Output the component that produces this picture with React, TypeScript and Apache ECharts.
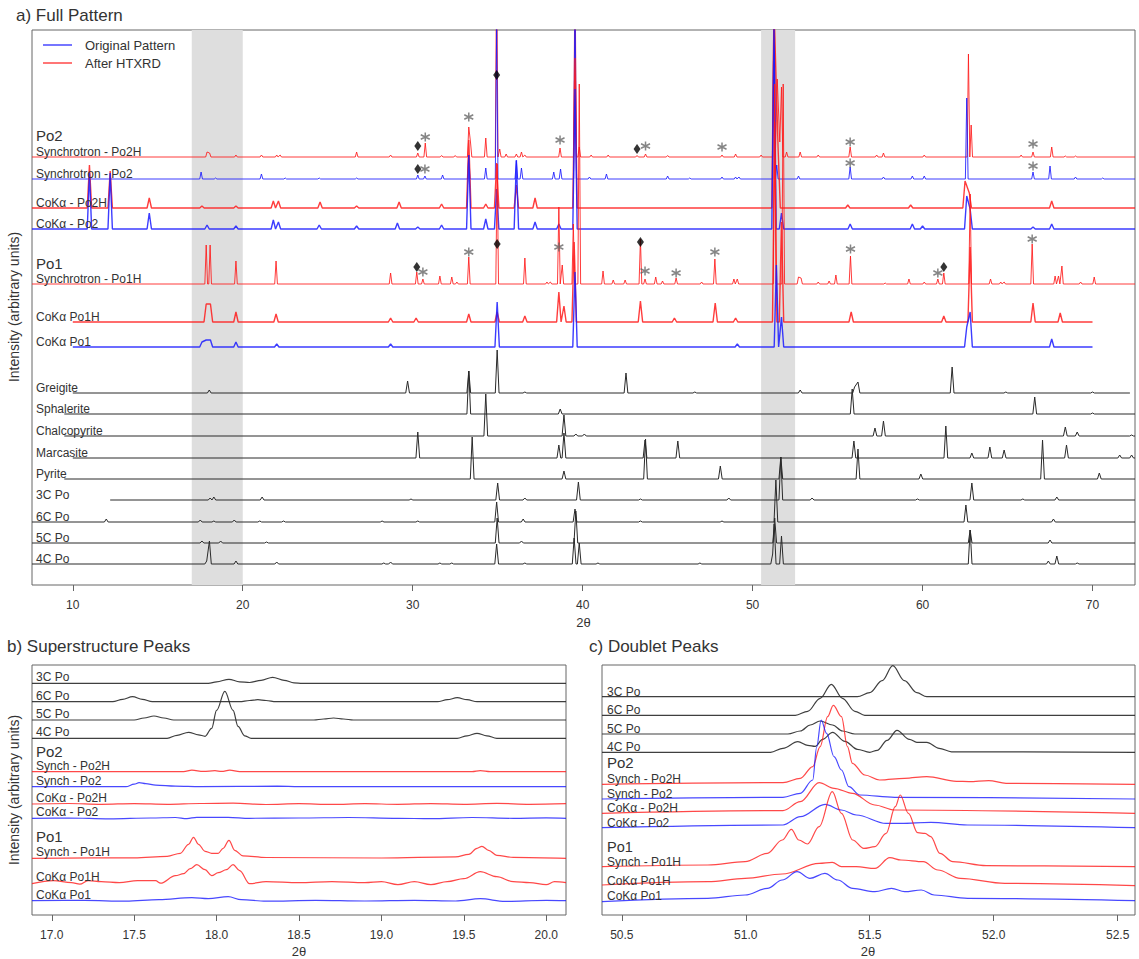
import React, { useEffect, useRef } from "react";
import * as echarts from "echarts";

// ---------- DATA ----------
const TOP_TICKS = [10, 20, 30, 40, 50, 60, 70];
const B_TICKS = [17.0, 17.5, 18.0, 18.5, 19.0, 19.5, 20.0];
const C_TICKS = [50.5, 51.0, 51.5, 52.0, 52.5];
const BANDS = [[17, 20], [50.5, 52.5]];

// Top panel peak lists: [2theta, intensity]
const SYNCH_PO2H = [[17.9,5],[18.05,4],[19.6,2],[21.1,2],[22.0,2],[22.2,2],[26.7,5],[28.7,2],[30.3,4],[30.74,14],[31.7,1.5],[32.5,1.5],[33.3,30],[33.4,15],[34.3,19],[34.94,200],[35.12,8],[35.5,3],[36.1,3],[36.4,5],[36.6,2],[38.67,9],[39.55,200],[39.8,10],[40.5,2],[41.5,2],[43.2,1.5],[43.7,3],[45.0,1.5],[48.2,2],[49.0,3],[50.5,2],[51.26,200],[51.45,78],[51.6,15],[51.7,70],[52.0,5],[52.8,5],[53.86,2],[55.74,10],[57.3,2],[57.7,4],[60.1,2],[62.7,103],[62.86,32],[65.8,2],[66.5,5],[67.6,10],[68.4,1],[69.0,1]];
const SYNCH_PO2 = [[17.55,7],[18.4,1],[21.1,5],[22.5,1],[24.5,1],[26.7,1],[30.3,4],[30.72,3],[31.76,4],[33.3,24],[34.3,11],[34.94,150],[36.1,18],[36.4,11],[38.3,7],[38.7,10],[39.55,200],[40.4,2],[41.4,5],[45.0,3],[46.3,1],[48.2,2],[49.0,2],[49.2,2],[51.26,200],[51.42,14],[52.7,3],[55.74,12],[57.7,2],[59.4,3],[60.1,3],[62.6,81],[66.5,7],[67.5,13],[69.0,2],[70.6,1]];
const COKA_PO2H = [[10.98,43],[12.2,37],[14.5,10],[17.6,2],[19.6,2],[21.8,7],[22.1,7],[24.55,6],[26.7,2],[29.2,6],[31.7,4],[33.3,68],[34.3,4],[34.94,45],[36.1,23],[37.2,10],[39.55,150],[51.26,200],[51.5,60],[55.6,3],[59.3,3],[62.5,27],[62.75,15],[67.6,7]];
const COKA_PO2 = [[10.98,56],[12.2,56],[14.5,16],[17.9,4],[19.6,3],[21.8,9],[22.1,7],[24.5,4],[26.7,3],[29.1,6],[30.3,2],[31.7,4],[33.3,74],[34.3,10],[34.94,40],[36.1,69],[37.2,7],[38.6,5],[39.55,140],[51.26,200],[51.7,16],[55.74,5],[59.4,5],[60.0,3],[62.6,33],[62.8,20],[66.5,2],[67.6,5]];
const SYNCH_PO1H = [[17.85,39],[18.08,39],[19.6,23],[21.96,23],[28.7,11],[30.24,12],[30.6,5],[31.6,8],[32.3,7],[32.6,2],[33.3,27],[34.97,120],[36.6,26],[37.9,2],[38.1,2],[38.6,77],[38.8,19],[39.45,60],[39.8,200],[41.2,13],[41.8,4],[42.5,4],[43.4,45],[43.67,5],[44.3,7],[44.7,3],[45.5,6],[47.0,2],[47.78,25],[48.9,5],[49.1,5],[51.3,200],[51.8,200],[52.7,7],[52.85,6],[53.86,2],[54.5,3],[54.9,9],[55.76,28],[57.8,1],[59.2,5],[60.1,2],[60.9,5],[61.25,11],[62.8,90],[64.0,5],[64.6,2],[64.8,2],[66.45,40],[67.8,8],[68.0,8],[68.2,18],[69.3,2],[70.1,7]];
const COKA_PO1H = [[17.85,18],[18.1,18],[19.6,10],[21.96,8],[28.7,4],[30.2,4],[33.3,8],[34.97,10],[36.6,6],[38.6,30],[38.9,16],[39.5,80],[43.4,21],[45.4,4],[47.8,19],[49.0,4],[51.3,200],[51.7,100],[55.8,10],[61.25,6],[62.8,75],[66.5,19],[68.1,9]];
const COKA_PO1 = [[17.6,5],[17.85,7],[18.1,7],[19.6,5],[22.0,3],[28.7,3],[34.97,45],[39.55,75],[49.1,3],[51.4,82],[51.7,30],[62.6,20],[62.8,35],[67.6,8]];
const GREIGITE = [[18.03,3],[29.7,12],[33.3,22],[34.97,43],[36.6,1],[42.55,20],[46.6,1],[52.8,3],[56.0,6],[56.2,11],[61.74,26],[64.9,1],[70.0,1]];
const SPHALERITE = [[33.3,43],[38.68,5],[55.86,25],[66.6,17],[70.0,1]];
const CHALCOPYRITE = [[34.3,42],[38.9,21],[39.6,2],[40.1,2],[57.2,8],[57.7,15],[68.4,9],[69.1,4],[72.3,1]];
const MARCASITE = [[30.3,26],[38.6,13],[38.9,25],[43.67,18],[45.6,17],[55.96,17],[61.37,32],[62.9,5],[63.96,11],[64.8,8],[68.47,13],[71.6,3],[72.3,3]];
const PYRITE = [[33.5,42],[38.9,8],[43.7,40],[48.1,13],[51.66,22],[56.2,30],[59.9,5],[67.06,39],[70.4,6]];
const PO_3C = [[18.08,2],[18.3,3],[21.14,3],[29.9,1],[35.0,17],[36.6,2],[39.75,18],[43.4,1],[48.6,2],[51.66,43],[53.5,2],[59.7,1],[62.9,17],[65.9,1],[67.9,3]];
const PO_6C = [[11.97,3],[17.5,2],[18.3,1],[19.5,2],[21.0,1],[22.4,1],[28.2,1],[30.3,1],[34.94,20],[36.5,3],[39.55,13],[43.4,1],[48.2,1],[51.37,42],[62.55,17],[67.7,3]];
const PO_5C = [[17.6,2],[18.7,2],[21.4,1],[34.97,25],[36.4,2],[39.6,32],[51.3,25],[62.8,13],[67.5,3]];
const PO_4C = [[17.88,3],[18.04,23],[19.6,3],[22.0,2],[28.3,1],[28.7,2],[31.6,1],[32.3,1],[34.94,20],[36.6,1],[39.5,26],[39.8,21],[40.9,1],[46.9,1],[51.18,10],[51.27,40],[51.7,28],[62.8,34],[67.4,3],[67.9,8],[69.1,1]];

// Top panel: x-range of each pattern [start, end]
const RANGE_FULL = [7.6, 72.5];
const RANGE_COKA_PO1 = [10, 70];
const RANGE_GREIGITE = [10, 72.2];
const RANGE_95 = [9.5, 72.5];
const RANGE_10 = [10, 72.5];
const RANGE_3C = [12.2, 72.5];

// Stacking offsets for the top panel (arbitrary intensity units)
const TOP_OFFSETS = [428, 406, 377, 356, 301, 263, 238, 192, 171, 149, 127, 106, 85, 63, 42, 21];

// Annotations on the top panel: [2theta, level]
const ASTERISKS = [[30.74,448],[33.3,468],[38.67,445],[43.7,439],[48.2,438],[55.74,443],[66.5,441],[30.72,416],[55.74,422],[66.5,419],[30.6,313],[33.3,333],[38.6,338],[43.67,314],[45.5,312],[47.78,333],[55.76,336],[60.9,312],[66.45,346]];
const DIAMONDS = [[30.3,439],[34.94,510],[43.2,436],[30.3,416],[30.24,318],[34.97,341],[43.4,343],[61.25,318]];

// Panel b (superstructure peaks): [2theta, intensity above baseline]
const B_3C = [[16.88,0],[17.95,0],[18.0,1.5],[18.075,4],[18.14,1.5],[18.2,0.8],[18.27,3],[18.34,6],[18.41,3],[18.47,0.5],[18.52,0],[20.12,0]];
const B_6C = [[16.88,0],[17.37,0],[17.43,2.3],[17.49,5],[17.55,2.3],[17.61,0],[18.14,0],[18.2,1.2],[18.25,2],[18.3,1.2],[18.36,0],[19.34,0],[19.4,2],[19.46,4],[19.52,2],[19.58,0],[20.12,0]];
const B_5C = [[16.88,0],[17.5,0],[17.56,2],[17.62,4],[17.68,2],[17.74,0],[18.59,0],[18.65,1],[18.71,2],[18.77,1],[18.83,0],[20.12,0]];
const B_4C = [[16.88,0],[17.7,0],[17.76,3],[17.83,6],[17.89,3.5],[17.93,2],[17.97,10],[18.0,28],[18.05,47],[18.1,28],[18.13,12],[18.17,2.5],[18.21,0],[19.46,0],[19.52,2.5],[19.58,5],[19.64,2.5],[19.7,0],[20.12,0]];
const B_SPO2H = [[16.88,0],[17.8,0],[17.85,1.5],[17.92,0.3],[17.99,1],[18.03,0.3],[18.08,1.5],[18.14,0],[19.55,0],[19.6,1],[19.66,0],[20.12,0]];
const B_SPO2 = [[16.88,0],[17.45,0],[17.5,2.5],[17.53,4],[17.57,3],[17.63,1.5],[17.75,0.5],[17.9,0],[18.37,0.5],[18.5,0],[20.12,0]];
const B_CPO2H = [[16.88,0],[17.1,0.5],[17.3,-0.3],[17.5,0.4],[17.7,-0.3],[17.9,0.5],[18.1,0.8],[18.3,-0.5],[18.5,0.3],[18.7,-0.4],[18.9,0.3],[19.1,-0.3],[19.3,0.4],[19.5,-0.3],[19.7,0.6],[19.9,-0.3],[20.12,0.3]];
const B_CPO2 = [[16.88,0],[17.1,0.3],[17.35,-0.6],[17.6,0.3],[17.75,0.8],[17.82,-0.3],[17.88,1],[18.07,1],[18.2,0],[18.5,0.3],[18.8,0.8],[19.1,0],[19.3,-0.4],[19.55,0.8],[19.8,0],[20.0,0.4],[20.12,0]];
const B_SPO1H = [[16.88,0],[17.5,0.5],[17.7,2],[17.78,5],[17.83,14],[17.86,21],[17.89,14],[17.93,7],[17.97,5],[18.01,5],[18.04,10],[18.075,18],[18.11,8],[18.16,2.5],[18.3,0.8],[19.0,0.3],[19.45,1.5],[19.53,4],[19.58,10],[19.61,12],[19.65,8],[19.7,3],[19.8,1],[20.12,0]];
const B_CPO1H = [[16.88,-1],[17.01,2],[17.12,0],[17.17,-1.5],[17.22,2],[17.3,1],[17.41,0],[17.52,2],[17.63,2],[17.66,-0.5],[17.75,7],[17.8,9],[17.84,14],[17.88,18],[17.93,13],[17.97,7],[18.01,10],[18.06,13],[18.1,18],[18.14,12],[18.2,-1],[18.3,1],[18.5,0],[18.7,1],[18.9,0],[19.0,1],[19.1,-2],[19.2,1],[19.3,-2],[19.4,1],[19.5,4],[19.6,11],[19.7,6],[19.8,1],[19.9,0],[20.0,-2],[20.05,1],[20.12,0]];
const B_CPO1 = [[16.88,0],[17.2,0.3],[17.45,-0.5],[17.65,1],[17.85,3],[17.95,2],[18.07,4],[18.15,1],[18.3,-0.5],[18.6,0.3],[18.9,-0.3],[19.2,0.3],[19.45,-0.3],[19.6,2],[19.75,-0.7],[20.0,0.3],[20.12,0]];
const B_OFFSETS = [231.7, 213.3, 195, 176.7, 143.3, 128.3, 111, 96.7, 56.7, 32.3, 14.3];

// Panel c (doublet peaks)
const C_3C = [[50.42,0],[51.45,0],[51.5,4],[51.55,16],[51.593,31],[51.64,16],[51.69,4],[51.73,0],[52.57,0]];
const C_6C = [[50.42,0],[51.2,0],[51.25,4],[51.3,17],[51.345,31],[51.39,17],[51.44,4],[51.48,0],[52.57,0]];
const C_5C = [[50.42,0],[51.17,0],[51.22,3],[51.26,9],[51.3,13],[51.35,9],[51.39,3],[51.44,0],[52.57,0]];
const C_4C = [[50.42,0],[51.1,0],[51.15,4],[51.21,10.7],[51.25,7],[51.28,6],[51.31,13],[51.35,20],[51.4,11],[51.45,3],[51.5,0],[51.53,2],[51.57,12],[51.61,22],[51.66,13],[51.69,10],[51.73,10],[51.78,4],[51.83,0.5],[52.57,0]];
const C_SPO2H = [[50.42,0],[51.15,1.7],[51.22,6],[51.27,17.7],[51.3,37.7],[51.33,67.7],[51.353,79],[51.386,67.7],[51.41,37.7],[51.43,21],[51.48,9.3],[51.54,4.3],[51.64,6],[51.73,7.7],[51.85,3],[51.9,2.7],[51.98,3.7],[52.05,1],[52.57,0]];
const C_SPO2 = [[50.42,0],[51.15,1.7],[51.22,5.7],[51.27,19],[51.286,52],[51.304,79],[51.326,65.7],[51.356,42.3],[51.386,29],[51.416,12.3],[51.46,4],[51.6,1.7],[52.57,0]];
const C_CPO2H = [[50.42,0],[51.15,2.7],[51.22,11.7],[51.296,30.7],[51.356,25],[51.43,20],[51.52,8.3],[51.6,3.3],[52.57,0]];
const C_CPO2 = [[50.42,0],[51.15,2.7],[51.22,11],[51.32,23.3],[51.386,17.7],[51.446,12.7],[51.566,4.3],[51.626,4.3],[51.746,5.3],[51.895,2.7],[52.57,0]];
const C_SPO1H = [[50.42,0],[50.847,1.7],[50.997,5],[51.087,13.3],[51.147,26.7],[51.184,37.3],[51.214,26.7],[51.249,22.7],[51.296,40],[51.349,75],[51.386,53.3],[51.431,26.7],[51.476,18.3],[51.521,20],[51.566,33.3],[51.603,60],[51.623,71.7],[51.656,53.3],[51.693,34],[51.723,33.3],[51.746,30],[51.783,13.3],[51.835,5],[51.97,1],[52.57,0]];
const C_CPO1H = [[50.42,0.7],[50.847,4],[50.997,7.3],[51.147,11.7],[51.296,22.3],[51.349,23.3],[51.386,19],[51.446,19],[51.521,17.3],[51.581,28],[51.626,25.7],[51.716,24],[51.775,15.7],[51.865,7.3],[52.045,2.3],[52.57,0]];
const C_CPO1 = [[50.42,-1],[50.847,2.3],[50.997,5.7],[51.087,12.3],[51.147,20.7],[51.207,29],[51.259,22.3],[51.319,27.3],[51.371,20.7],[51.431,12.3],[51.521,9],[51.588,12.3],[51.641,9],[51.708,10.7],[51.76,5.7],[51.895,2.3],[52.57,0]];
const C_OFFSETS = [218.3, 199.7, 181, 162.7, 130.7, 116, 101.7, 87.3, 48.3, 29.3, 14.3];

// ---------- STYLE ----------
const RED = "#ff1a1a";
const BLUE = "#1a1aff";
const BLACK = "#2a2a2a";
const TXT = "#333";
const FONT = "'Liberation Sans', Arial, sans-serif";

type Pk = number[][];

function sticks(peaks: Pk, range: number[], w: number): number[][] {
  const pts: number[][] = [[range[0], 0], [range[1], 0]];
  peaks.forEach(([p, h]) => {
    pts.push([p - w, 0], [p, h], [p + w, 0]);
  });
  const kept = pts.filter(
    ([x, y]) =>
      y !== 0 || !peaks.some(([p]) => Math.abs(x - p) < w - 1e-9)
  );
  kept.sort((a, b) => a[0] - b[0]);
  return kept.filter(([x]) => x >= range[0] && x <= range[1]);
}

const TOP_TRACES = [
  { name: "Synchrotron - Po2H", peaks: SYNCH_PO2H, range: RANGE_FULL, color: RED, w: 0.08, lw: 1 },
  { name: "Synchrotron - Po2", peaks: SYNCH_PO2, range: RANGE_FULL, color: BLUE, w: 0.08, lw: 1 },
  { name: "CoKα - Po2H", peaks: COKA_PO2H, range: RANGE_FULL, color: RED, w: 0.13, lw: 1.4 },
  { name: "CoKα - Po2", peaks: COKA_PO2, range: RANGE_FULL, color: BLUE, w: 0.13, lw: 1.4 },
  { name: "Synchrotron - Po1H", peaks: SYNCH_PO1H, range: RANGE_FULL, color: RED, w: 0.08, lw: 1 },
  { name: "CoKα Po1H", peaks: COKA_PO1H, range: RANGE_COKA_PO1, color: RED, w: 0.13, lw: 1.4 },
  { name: "CoKα Po1", peaks: COKA_PO1, range: RANGE_COKA_PO1, color: BLUE, w: 0.13, lw: 1.4 },
  { name: "Greigite", peaks: GREIGITE, range: RANGE_GREIGITE, color: BLACK, w: 0.11, lw: 1 },
  { name: "Sphalerite", peaks: SPHALERITE, range: RANGE_95, color: BLACK, w: 0.11, lw: 1 },
  { name: "Chalcopyrite", peaks: CHALCOPYRITE, range: RANGE_95, color: BLACK, w: 0.11, lw: 1 },
  { name: "Marcasite", peaks: MARCASITE, range: RANGE_10, color: BLACK, w: 0.11, lw: 1 },
  { name: "Pyrite", peaks: PYRITE, range: RANGE_95, color: BLACK, w: 0.11, lw: 1 },
  { name: "3C Po", peaks: PO_3C, range: RANGE_3C, color: BLACK, w: 0.11, lw: 1 },
  { name: "6C Po", peaks: PO_6C, range: RANGE_FULL, color: BLACK, w: 0.11, lw: 1 },
  { name: "5C Po", peaks: PO_5C, range: RANGE_FULL, color: BLACK, w: 0.11, lw: 1 },
  { name: "4C Po", peaks: PO_4C, range: RANGE_FULL, color: BLACK, w: 0.11, lw: 1 },
];

const SUB_NAMES = ["3C Po", "6C Po", "5C Po", "4C Po", "Synch - Po2H", "Synch - Po2", "CoKα - Po2H", "CoKα - Po2", "Synch - Po1H", "CoKα Po1H", "CoKα Po1"];
const SUB_COLORS = [BLACK, BLACK, BLACK, BLACK, RED, BLUE, RED, BLUE, RED, RED, BLUE];
const B_DATA = [B_3C, B_6C, B_5C, B_4C, B_SPO2H, B_SPO2, B_CPO2H, B_CPO2, B_SPO1H, B_CPO1H, B_CPO1];
const C_DATA = [C_3C, C_6C, C_5C, C_4C, C_SPO2H, C_SPO2, C_CPO2H, C_CPO2, C_SPO1H, C_CPO1H, C_CPO1];

// Layout (pixels)
const G0 = { left: 32, top: 30, width: 1103, height: 555 };
const G1 = { left: 32, top: 665, width: 534, height: 250 };
const G2 = { left: 602, top: 665, width: 533, height: 250 };

function txt(x: number, y: number, s: string, size = 12, extra: any = {}) {
  return {
    type: "text",
    x,
    y,
    silent: true,
    z: 10,
    style: {
      text: s,
      fontSize: size,
      fontFamily: FONT,
      fill: TXT,
      textAlign: "left",
      textVerticalAlign: "middle",
      ...extra,
    },
  };
}

function xAxisCfg(grid: number, min: number, max: number, ticks: number[], dec: number) {
  return {
    type: "value",
    gridIndex: grid,
    min,
    max,
    axisLine: { show: false },
    splitLine: { show: false },
    axisTick: {
      show: true,
      length: 6,
      customValues: ticks,
      lineStyle: { color: "#666", width: 1 },
    },
    axisLabel: {
      customValues: ticks,
      margin: 14,
      color: TXT,
      fontSize: 12,
      fontFamily: FONT,
      formatter: (v: number) => v.toFixed(dec),
    },
  };
}

function yAxisCfg(grid: number, max: number) {
  return { type: "value", gridIndex: grid, min: 0, max, show: false };
}

export default function App() {
  const ref = useRef<HTMLDivElement>(null);
  useEffect(() => {
    if (!ref.current) return;
    const chart = echarts.init(ref.current, undefined, { renderer: "svg" });
    const series: any[] = [];

    // shaded bands
    series.push({
      type: "line",
      xAxisIndex: 0,
      yAxisIndex: 0,
      data: [],
      z: 1,
      silent: true,
      markArea: {
        silent: true,
        itemStyle: { color: "#dedede" },
        data: BANDS.map((b) => [{ xAxis: b[0] }, { xAxis: b[1] }]),
      },
    });

    TOP_TRACES.forEach((t, i) => {
      const off = TOP_OFFSETS[i];
      series.push({
        type: "line",
        name: t.name,
        xAxisIndex: 0,
        yAxisIndex: 0,
        data: sticks(t.peaks, t.range, t.w).map(([x, y]) => [x, y + off]),
        showSymbol: false,
        symbol: "none",
        clip: true,
        z: 2,
        silent: true,
        lineStyle: { color: t.color, width: t.lw, opacity: t.color === BLACK ? 1 : 0.85 },
      });
    });

    series.push({
      type: "scatter",
      xAxisIndex: 0,
      yAxisIndex: 0,
      data: ASTERISKS,
      symbol: "path://M0,-5L0,5M-4.33,-2.5L4.33,2.5M-4.33,2.5L4.33,-2.5",
      symbolSize: 9,
      z: 5,
      silent: true,
      itemStyle: { color: "rgba(0,0,0,0)", borderColor: "#666", borderWidth: 1.5 },
    });
    series.push({
      type: "scatter",
      xAxisIndex: 0,
      yAxisIndex: 0,
      data: DIAMONDS,
      symbol: "diamond",
      symbolSize: [7, 10],
      z: 5,
      silent: true,
      itemStyle: { color: "#000" },
    });

    const sub = (idx: number, data: number[][][], offs: number[]) => {
      data.forEach((d, i) => {
        series.push({
          type: "line",
          xAxisIndex: idx,
          yAxisIndex: idx,
          data: d.map(([x, y]) => [x, y + offs[i]]),
          showSymbol: false,
          symbol: "none",
          smooth: 0.35,
          smoothMonotone: "x",
          clip: true,
          z: 2,
          silent: true,
          lineStyle: { color: SUB_COLORS[i], width: 1.2, opacity: SUB_COLORS[i] === BLACK ? 0.9 : 0.8 },
        });
      });
    };
    sub(1, B_DATA, B_OFFSETS);
    sub(2, C_DATA, C_OFFSETS);

    // labels
    const g: any[] = [];
    g.push(txt(16, 15, "a) Full Pattern", 17));
    g.push(txt(7, 646, "b) Superstructure Peaks", 17));
    g.push(txt(589, 646, "c) Doublet Peaks", 17));
    // legend
    g.push({ type: "line", silent: true, shape: { x1: 43, y1: 45, x2: 72, y2: 45 }, style: { stroke: BLUE, lineWidth: 1.2 } });
    g.push({ type: "line", silent: true, shape: { x1: 43, y1: 63, x2: 72, y2: 63 }, style: { stroke: RED, lineWidth: 1.2 } });
    g.push(txt(85, 45, "Original Pattern", 13));
    g.push(txt(85, 63, "After HTXRD", 13));
    // top trace labels
    const topBottom = G0.top + G0.height;
    TOP_TRACES.forEach((t, i) => {
      g.push(txt(36, topBottom - TOP_OFFSETS[i] - 5.5, t.name, 12));
    });
    g.push(txt(36, 135, "Po2", 15));
    g.push(txt(36, 263, "Po1", 15));
    // sub labels
    const bBottom = G1.top + G1.height;
    SUB_NAMES.forEach((n, i) => {
      g.push(txt(36, bBottom - B_OFFSETS[i] - 6, n, 12));
      g.push(txt(607, bBottom - C_OFFSETS[i] - 5, n, 12));
    });
    g.push(txt(36, 751, "Po2", 15));
    g.push(txt(36, 836, "Po1", 15));
    g.push(txt(607, 762, "Po2", 15));
    g.push(txt(607, 846.5, "Po1", 14.5));
    // axis titles
    g.push(txt(583.5, 622, "2θ", 13, { textAlign: "center" }));
    g.push(txt(299, 951, "2θ", 13, { textAlign: "center" }));
    g.push(txt(868, 951, "2θ", 13, { textAlign: "center" }));
    g.push({
      type: "text",
      x: 14,
      y: 307,
      rotation: Math.PI / 2,
      silent: true,
      style: { text: "Intensity (arbitrary units)", fontSize: 14, fontFamily: FONT, fill: TXT, textAlign: "center", textVerticalAlign: "middle" },
    });
    g.push({
      type: "text",
      x: 14,
      y: 790,
      rotation: Math.PI / 2,
      silent: true,
      style: { text: "Intensity (arbitrary units)", fontSize: 14, fontFamily: FONT, fill: TXT, textAlign: "center", textVerticalAlign: "middle" },
    });

    const gridStyle = { show: true, borderColor: "#666", borderWidth: 1, backgroundColor: "transparent", containLabel: false };
    chart.setOption({
      animation: false,
      backgroundColor: "#fff",
      grid: [
        { ...G0, ...gridStyle },
        { ...G1, ...gridStyle },
        { ...G2, ...gridStyle },
      ],
      xAxis: [
        xAxisCfg(0, 7.6, 72.5, TOP_TICKS, 0),
        xAxisCfg(1, 16.88, 20.12, B_TICKS, 1),
        xAxisCfg(2, 50.42, 52.57, C_TICKS, 1),
      ],
      yAxis: [yAxisCfg(0, 555), yAxisCfg(1, 250), yAxisCfg(2, 250)],
      series,
      graphic: g,
    });
    return () => chart.dispose();
  }, []);
  return (
    <div
      ref={ref}
      style={{ position: "absolute", left: 0, top: 0, width: 1139, height: 959 }}
    />
  );
}
